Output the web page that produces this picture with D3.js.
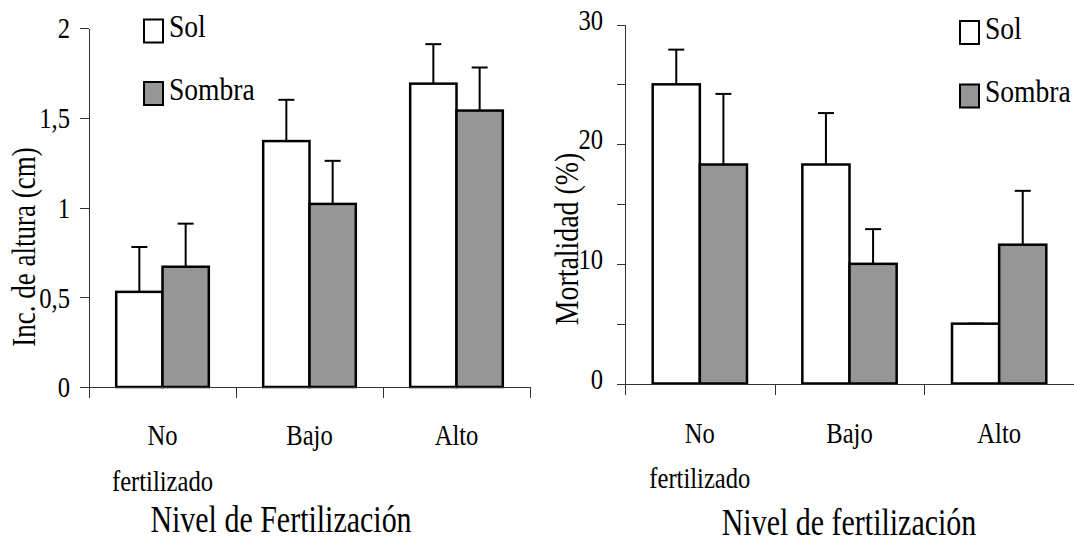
<!DOCTYPE html>
<html>
<head>
<meta charset="UTF-8">
<script src="https://d3js.org/d3.v7.min.js"></script>
<style>
  body { margin: 0; background: #fff; }
  .axis path, .axis line { stroke: #333; stroke-width: 1; shape-rendering: crispEdges; }
  .bar { stroke: #000; stroke-width: 2.5; }
  .err { stroke: #000; stroke-width: 2; fill: none; }
</style>
</head>
<body>
<svg id="chart" width="1074" height="541" font-family="Liberation Serif"></svg>
<script>
// data
const categories = ["No fertilizado", "Bajo", "Alto"];
const series = ["Sol", "Sombra"];
const colors = ["#ffffff", "#969696"];

const alturaSol = [0.53, 1.37, 1.69];
const alturaSolErr = [0.25, 0.23, 0.22];
const alturaSombra = [0.67, 1.02, 1.54];
const alturaSombraErr = [0.24, 0.24, 0.24];

const mortSol = [25, 18.3, 5];
const mortSolErr = [2.9, 4.3, 0];
const mortSombra = [18.3, 10, 11.6];
const mortSombraErr = [5.9, 2.9, 4.5];

const alturaTicks = [0, 0.5, 1, 1.5, 2];
const mortTicks = [0, 5, 10, 15, 20, 25, 30];
const mortLabels = [0, 10, 20, 30];

const FONT = 'Liberation Serif';
const svg = d3.select('#chart');

// narrow Times look: text placed at (x,y), squeezed sideways by f
function label(parent, x, y, str, size, f, anchor, rot) {
    const w = parent.append('g')
        .attr('transform', `translate(${x},${y})${rot ? ' rotate(' + rot + ')' : ''} scale(${f},1)`);
    return w.append('text')
        .attr('text-anchor', anchor || 'start')
        .attr('font-family', FONT)
        .attr('font-size', size)
        .attr('fill', '#000')
        .text(str);
}

function drawChart(o) {
    const g = svg.append('g').attr('font-family', FONT);

    const x = d3.scaleBand().domain(categories).range([o.x0, o.x1]);
    const xs = d3.scaleBand().domain(series)
        .range([x.bandwidth() * 0.185, x.bandwidth() * 0.815]);
    const y = d3.scaleLinear().domain([0, o.max]).range([o.yBottom, o.yTop]);
    const xi = d3.scaleLinear().domain([0, categories.length]).range([o.x0, o.x1]);

    const rows = [];
    categories.forEach((c, i) => {
        series.forEach((s, j) => {
            rows.push({ cat: c, ser: s, j: j, v: o.values[j][i], e: o.errors[j][i] });
        });
    });

    // error bars (upper half only)
    rows.forEach(d => {
        const cx = x(d.cat) + xs(d.ser) + xs.bandwidth() / 2;
        g.append('line').attr('class', 'err')
            .attr('x1', cx).attr('x2', cx)
            .attr('y1', y(d.v)).attr('y2', y(d.v + d.e));
        g.append('line').attr('class', 'err')
            .attr('x1', cx - 8).attr('x2', cx + 8)
            .attr('y1', y(d.v + d.e)).attr('y2', y(d.v + d.e));
    });

    g.selectAll('.bar').data(rows).enter()
        .append('rect')
        .attr('class', 'bar')
        .attr('x', d => x(d.cat) + xs(d.ser))
        .attr('y', d => y(d.v))
        .attr('width', xs.bandwidth())
        .attr('height', d => y(0) - y(d.v))
        .attr('fill', d => colors[d.j]);

    // y axis
    const f = 0.82;
    g.append('g').attr('class', 'axis')
        .attr('transform', `translate(${o.x0},0)`)
        .call(d3.axisLeft(y).tickValues(o.ticks).tickFormat(o.fmt)
            .tickSizeInner(o.tickLen).tickSizeOuter(0).tickPadding(o.tickPad))
        .attr('font-family', FONT)
        .call(a => a.selectAll('text')
            .attr('font-family', FONT).attr('fill', '#000')
            .attr('font-size', 30).attr('dy', o.tickDy)
            .attr('x', -(o.tickLen + o.tickPad) / f)
            .attr('transform', `scale(${f},1)`));

    // x axis, ticks on the category boundaries
    g.append('g').attr('class', 'axis')
        .attr('transform', `translate(0,${o.yBottom})`)
        .call(d3.axisBottom(xi).tickValues(d3.range(categories.length + 1))
            .tickFormat('').tickSizeInner(11).tickSizeOuter(0));

    // category labels
    categories.forEach(c => {
        c.split(' ').forEach((line, k) => {
            label(g, x(c) + x.bandwidth() / 2, o.catY[k], line, 30, 0.82, 'middle');
        });
    });

    // axis titles
    label(g, o.xTitle[0], o.xTitle[1], o.xLabel, 37, 0.81, 'middle');
    label(g, o.yTitle[0], o.yTitle[1], o.yLabel, o.yTitleSize, 0.82, 'middle', -90);

    // legend
    series.forEach((s, j) => {
        const ly = o.legend[1] + j * o.legendGap;
        g.append('rect')
            .attr('x', o.legend[0]).attr('y', ly)
            .attr('width', 19).attr('height', 23)
            .attr('fill', colors[j]).attr('stroke', '#000').attr('stroke-width', 2);
        label(g, o.legend[0] + 25, ly + 17.5, s, 31, 0.89);
    });
}

drawChart({
    x0: 89, x1: 530, yBottom: 387, yTop: 28, max: 2,
    values: [alturaSol, alturaSombra], errors: [alturaSolErr, alturaSombraErr],
    ticks: alturaTicks, fmt: d => String(d).replace('.', ','),
    tickLen: 9, tickPad: 10, tickDy: '0.33em',
    catY: [445, 491],
    xLabel: 'Nivel de Fertilización', xTitle: [281, 532],
    yLabel: 'Inc. de altura (cm)', yTitle: [35, 247], yTitleSize: 33,
    legend: [144, 19.5], legendGap: 62.5
});

drawChart({
    x0: 625, x1: 1074, yBottom: 383.5, yTop: 24.5, max: 30,
    values: [mortSol, mortSombra], errors: [mortSolErr, mortSombraErr],
    ticks: mortTicks, fmt: d => mortLabels.includes(d) ? d : '',
    tickLen: 8, tickPad: 14, tickDy: '0.15em',
    catY: [443, 488],
    xLabel: 'Nivel de fertilización', xTitle: [849, 535],
    yLabel: 'Mortalidad (%)', yTitle: [578, 239], yTitleSize: 34,
    legend: [960, 21], legendGap: 63.5
});
</script>
</body>
</html>
